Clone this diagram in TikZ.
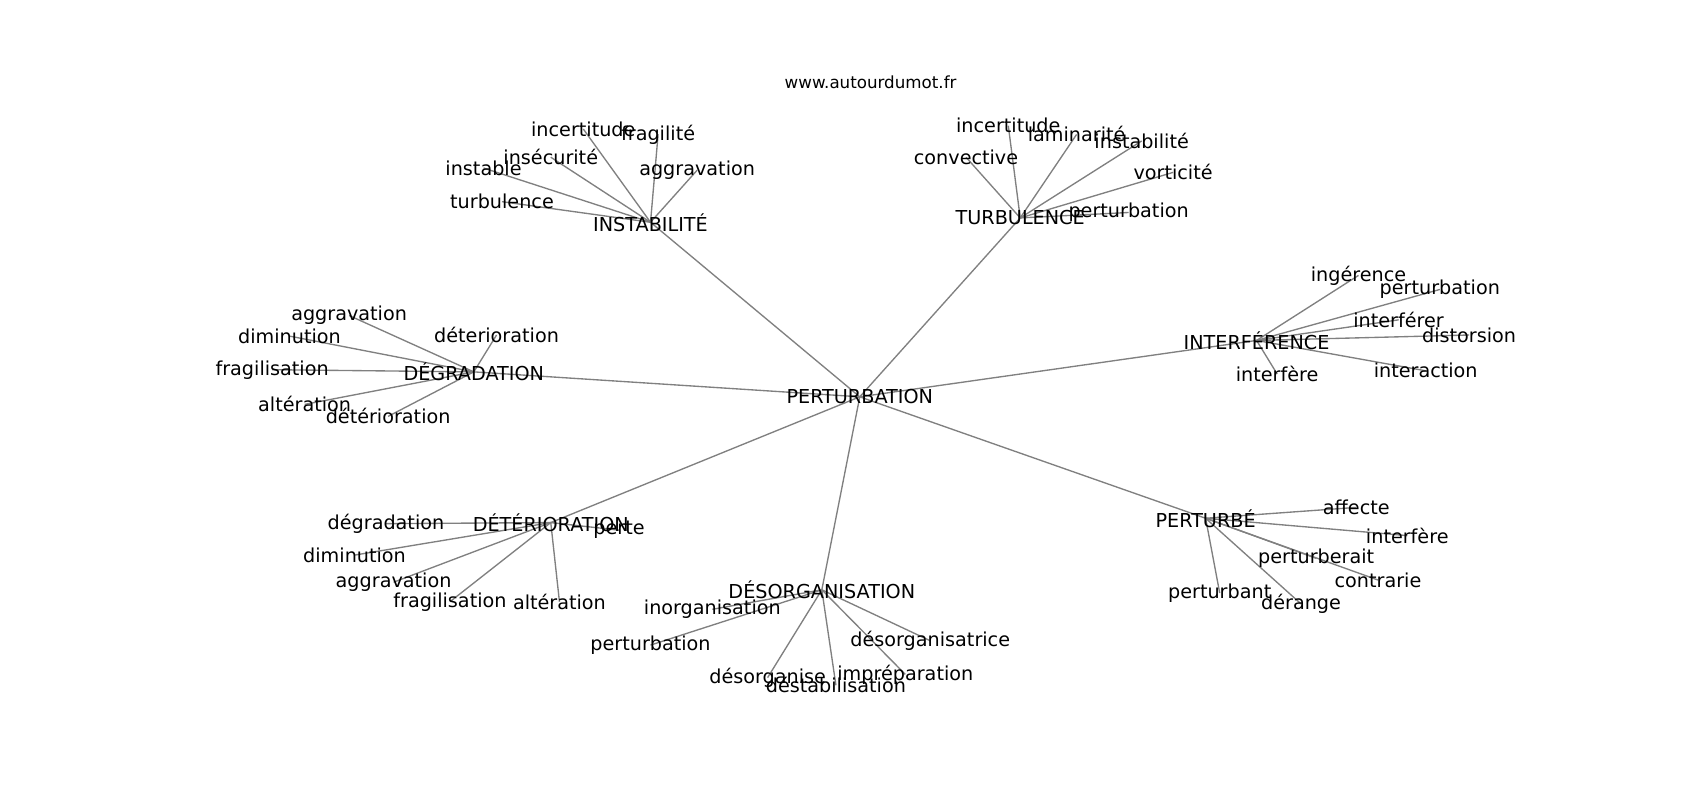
\documentclass[tikz,border=0pt]{standalone}
\usepackage{fontspec}
\setmainfont{DejaVu Sans}
\begin{document}
\begin{tikzpicture}[x=1.0842pt,y=-1.0842pt,
  word/.style={inner sep=0pt,font=\fontsize{19.2}{22}\selectfont},
  ttl/.style={inner sep=0pt,font=\fontsize{16.7}{19}\selectfont},
  edge/.style={draw=black!50,line width=1.35pt}]
\useasboundingbox (0,0) rectangle (1568,738);
% coordinates of all words
\coordinate (c) at (793,366);
\coordinate (h1) at (600,205);
\coordinate (h2) at (941,201);
\coordinate (h3) at (437,343);
\coordinate (h4) at (1159,314);
\coordinate (h5) at (508,482);
\coordinate (h6) at (758,544);
\coordinate (h7) at (1112,478);
% INSTABILITE children
\coordinate (a1) at (538,119);
\coordinate (a2) at (607,124);
\coordinate (a3) at (508,145);
\coordinate (a4) at (446,155);
\coordinate (a5) at (643,157);
\coordinate (a6) at (463,186);
% TURBULENCE children
\coordinate (b1) at (930,116);
\coordinate (b2) at (993,124);
\coordinate (b3) at (1053,130);
\coordinate (b4) at (891,145);
\coordinate (b5) at (1082,159);
\coordinate (b6) at (1041,196);
% DEGRADATION children
\coordinate (d1) at (322,291);
\coordinate (d2) at (458,309);
\coordinate (d3) at (267,310);
\coordinate (d4) at (251,341);
\coordinate (d5) at (281,373);
\coordinate (d6) at (358,384);
% INTERFERENCE children
\coordinate (e1) at (1253,254);
\coordinate (e2) at (1328,267);
\coordinate (e3) at (1290,295);
\coordinate (e4) at (1355,309);
\coordinate (e5) at (1315,342);
\coordinate (e6) at (1178,345);
% DETERIORATION children
\coordinate (f1) at (356,483);
\coordinate (f2) at (571,489);
\coordinate (f3) at (327,512);
\coordinate (f4) at (363,537);
\coordinate (f5) at (415,555);
\coordinate (f6) at (516,555);
% DESORGANISATION children
\coordinate (g1) at (657,562);
\coordinate (g2) at (600,595);
\coordinate (g3) at (858,591);
\coordinate (g4) at (708,625);
\coordinate (g5) at (835,622);
\coordinate (g6) at (771,632);
% PERTURBE children
\coordinate (p1) at (1251,468);
\coordinate (p2) at (1298,494);
\coordinate (p3) at (1214,515);
\coordinate (p4) at (1271,535);
\coordinate (p5) at (1125,547);
\coordinate (p6) at (1200,557);
% edges
\foreach \h in {h1,h2,h3,h4,h5,h6,h7} \draw[edge] (c) -- (\h);
\foreach \n in {a1,a2,a3,a4,a5,a6} \draw[edge] (h1) -- (\n);
\foreach \n in {b1,b2,b3,b4,b5,b6} \draw[edge] (h2) -- (\n);
\foreach \n in {d1,d2,d3,d4,d5,d6} \draw[edge] (h3) -- (\n);
\foreach \n in {e1,e2,e3,e4,e5,e6} \draw[edge] (h4) -- (\n);
\foreach \n in {f1,f2,f3,f4,f5,f6} \draw[edge] (h5) -- (\n);
\foreach \n in {g1,g2,g3,g4,g5,g6} \draw[edge] (h6) -- (\n);
\foreach \n in {p1,p2,p3,p4,p5,p6} \draw[edge] (h7) -- (\n);
% labels
\node[ttl] (title) at (803,76) {www.autourdumot.fr};
\node[word] (nc) at (c) {PERTURBATION};
\node[word] (nh1) at (h1) {INSTABILITÉ};
\node[word] (nh2) at (h2) {TURBULENCE};
\node[word] (nh3) at (h3) {DÉGRADATION};
\node[word] (nh4) at (h4) {INTERFÉRENCE};
\node[word] (nh5) at (h5) {DÉTÉRIORATION};
\node[word] (nh6) at (h6) {DÉSORGANISATION};
\node[word] (nh7) at (h7) {PERTURBÉ};
\node[word] (na1) at (a1) {incertitude};
\node[word] (na2) at (a2) {fragilité};
\node[word] (na3) at (a3) {insécurité};
\node[word] (na4) at (a4) {instable};
\node[word] (na5) at (a5) {aggravation};
\node[word] (na6) at (a6) {turbulence};
\node[word] (nb1) at (b1) {incertitude};
\node[word] (nb2) at (b2) {laminarité};
\node[word] (nb3) at (b3) {instabilité};
\node[word] (nb4) at (b4) {convective};
\node[word] (nb5) at (b5) {vorticité};
\node[word] (nb6) at (b6) {perturbation};
\node[word] (nd1) at (d1) {aggravation};
\node[word] (nd2) at (d2) {déterioration};
\node[word] (nd3) at (d3) {diminution};
\node[word] (nd4) at (d4) {fragilisation};
\node[word] (nd5) at (d5) {altération};
\node[word] (nd6) at (d6) {détérioration};
\node[word] (ne1) at (e1) {ingérence};
\node[word] (ne2) at (e2) {perturbation};
\node[word] (ne3) at (e3) {interférer};
\node[word] (ne4) at (e4) {distorsion};
\node[word] (ne5) at (e5) {interaction};
\node[word] (ne6) at (e6) {interfère};
\node[word] (nf1) at (f1) {dégradation};
\node[word] (nf2) at (f2) {perte};
\node[word] (nf3) at (f3) {diminution};
\node[word] (nf4) at (f4) {aggravation};
\node[word] (nf5) at (f5) {fragilisation};
\node[word] (nf6) at (f6) {altération};
\node[word] (ng1) at (g1) {inorganisation};
\node[word] (ng2) at (g2) {perturbation};
\node[word] (ng3) at (g3) {désorganisatrice};
\node[word] (ng4) at (g4) {désorganise};
\node[word] (ng5) at (g5) {impréparation};
\node[word] (ng6) at (g6) {déstabilisation};
\node[word] (np1) at (p1) {affecte};
\node[word] (np2) at (p2) {interfère};
\node[word] (np3) at (p3) {perturberait};
\node[word] (np4) at (p4) {contrarie};
\node[word] (np5) at (p5) {perturbant};
\node[word] (np6) at (p6) {dérange};
\end{tikzpicture}
\end{document}
